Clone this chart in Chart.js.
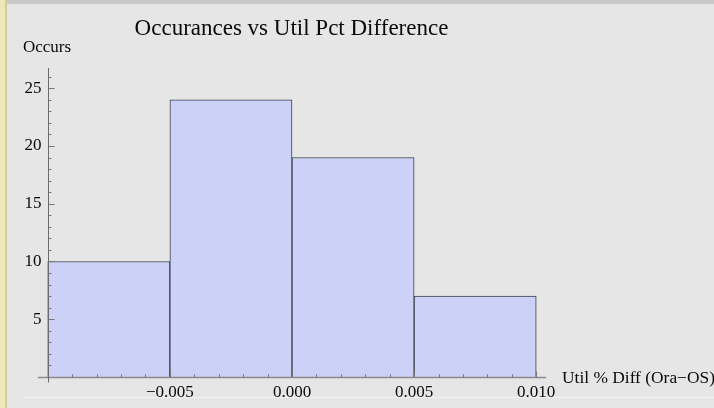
<!DOCTYPE html>
<html>
<head>
<meta charset="utf-8">
<script src="https://cdn.jsdelivr.net/npm/chart.js@4/dist/chart.umd.min.js"></script>
<style>
  html, body { margin: 0; padding: 0; background: #e6e6e6; }
  #wrap { position: relative; width: 714px; height: 408px; }
</style>
</head>
<body>
<div id="wrap"><canvas id="hist-chart" width="714" height="408"></canvas></div>
<script>
// bin centres and counts
const binCenters = [-0.0075, -0.0025, 0.0025, 0.0075];
const counts = [10, 24, 19, 7];
const xTicks = [-0.005, 0.0, 0.005, 0.01];
const xTickLabels = ["\u22120.005", "0.000", "0.005", "0.010"];
const yTicks = [5, 10, 15, 20, 25];

const serif = "'Liberation Serif', 'Times New Roman', serif";

// draws background, mathematica-style axes and labels
const frame = {
  id: "frame",
  beforeDraw(chart) {
    const c = chart.ctx;
    c.save();
    c.fillStyle = "#e6e6e6";
    c.fillRect(0, 0, chart.width, chart.height);
    c.fillStyle = "#c9c9c9";
    c.fillRect(0, 0, chart.width, 4);
    c.fillStyle = "#efe8bd";
    c.fillRect(0, 0, 5, chart.height);
    c.fillStyle = "#d6cd94";
    c.fillRect(5, 0, 2, chart.height);
    c.fillStyle = "#f2f2f2";
    c.fillRect(23, 397, chart.width - 23, 1);
    c.restore();
  },
  afterDatasetsDraw(chart) {
    const c = chart.ctx;
    const x = chart.scales.x, y = chart.scales.y;
    const x0 = Math.round(x.getPixelForValue(-0.01)) + 0.5;
    const y0 = Math.round(y.getPixelForValue(0)) + 0.5;
    c.save();
    // x axis
    c.strokeStyle = "#8a8a8a";
    c.lineWidth = 1.5;
    c.beginPath();
    c.moveTo(x.left, y0);
    c.lineTo(x.right, y0);
    c.stroke();
    // y axis
    c.strokeStyle = "#6a6a6a";
    c.lineWidth = 1;
    c.beginPath();
    c.moveTo(x0, y.top);
    c.lineTo(x0, y0 + 5);
    c.stroke();
    // x ticks
    c.strokeStyle = "#777";
    for (let i = -9; i <= 10; i++) {
      const v = i / 1000;
      const px = Math.round(x.getPixelForValue(v)) + 0.5;
      const len = i % 5 === 0 ? 6 : 3;
      c.beginPath();
      c.moveTo(px, y0);
      c.lineTo(px, y0 - len);
      c.stroke();
    }
    // y ticks
    for (let v = 1; v <= 26; v++) {
      const py = Math.round(y.getPixelForValue(v)) + 0.5;
      const len = v % 5 === 0 ? 6 : 3;
      c.beginPath();
      c.moveTo(x0, py);
      c.lineTo(x0 + len, py);
      c.stroke();
    }
    // tick labels
    c.fillStyle = "#0a0a0a";
    c.font = "17px " + serif;
    c.textAlign = "center";
    c.textBaseline = "middle";
    xTicks.forEach((v, i) => {
      c.fillText(xTickLabels[i], x.getPixelForValue(v), y0 + 15);
    });
    c.textAlign = "right";
    yTicks.forEach((v) => {
      c.fillText(String(v), x0 - 7, y.getPixelForValue(v));
    });
    // axis labels
    c.textAlign = "left";
    c.fillText("Occurs", 23, 48);
    c.font = "17.4px " + serif;
    c.fillText("Util % Diff (Ora\u2212OS)", 562, y0 + 1);
    // title
    c.font = "23px " + serif;
    c.textAlign = "center";
    c.fillText("Occurances vs Util Pct Difference", 291.5, 29);
    c.restore();
  },
};

new Chart(document.getElementById("hist-chart"), {
  type: "bar",
  data: {
    datasets: [
      {
        label: "Occurs",
        data: binCenters.map((b, i) => ({ x: b, y: counts[i] })),
        backgroundColor: "rgb(204, 210, 247)",
        borderColor: "#3c3c48",
        borderWidth: 1,
        borderSkipped: "bottom",
        barPercentage: 1,
        categoryPercentage: 1,
      },
    ],
  },
  options: {
    responsive: false,
    animation: false,
    layout: { padding: { left: 38, right: 168, top: 68, bottom: 31 } },
    scales: {
      x: { type: "linear", min: -0.0104, max: 0.0104, display: false, offset: false },
      y: { min: 0, max: 26.75, display: false },
    },
    plugins: {
      legend: { display: false },
      tooltip: { enabled: false },
    },
  },
  plugins: [frame],
});
</script>
</body>
</html>
